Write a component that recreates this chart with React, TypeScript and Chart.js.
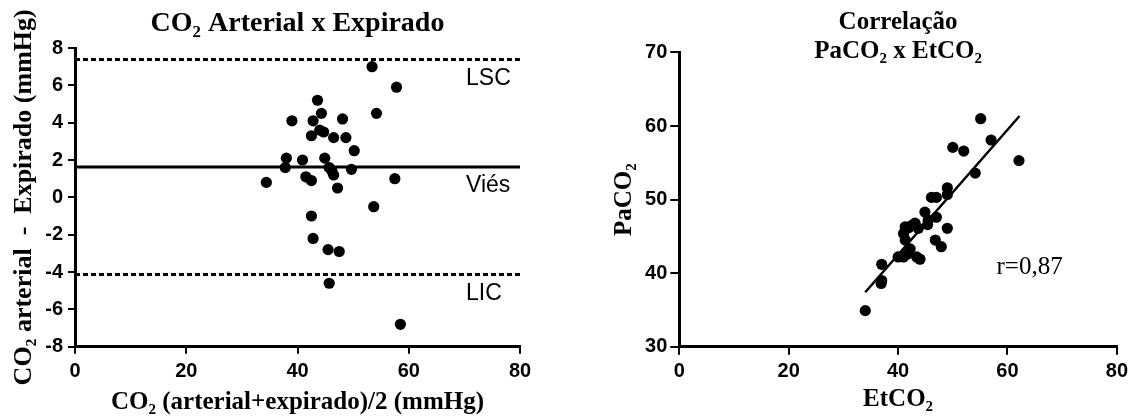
import { useEffect, useRef } from 'react';
import { Chart, registerables } from 'chart.js';

Chart.register(...registerables);

// Bland-Altman: mean of arterial and expired CO2 (x) vs their difference (y)
const meanCO2 = [
  34.4, 37.8, 38.0, 39.0, 40.9, 41.5, 42.5, 42.5, 42.8, 42.5, 42.8, 43.6,
  44.3, 44.0, 44.7, 44.9, 45.7, 45.5, 45.7, 46.2, 46.5, 46.5, 47.2, 47.5,
  48.1, 48.7, 49.7, 50.2, 53.4, 54.2, 53.7, 57.5, 57.8, 58.5,
];
const diffCO2 = [
  0.8, 1.6, 2.1, 4.1, 2.0, 1.1, 0.9, -1.0, -2.2, 3.3, 4.1, 5.2,
  4.5, 3.6, 3.5, 2.1, 1.6, -2.8, -4.6, 1.4, 1.2, 3.2, 0.5, -2.9,
  4.2, 3.2, 1.5, 2.5, 7.0, 4.5, -0.5, 1.0, 5.9, -6.8,
];
const biasValue = 1.63;
const upperLimit = 7.39;
const lowerLimit = -4.13;
const limitLabels = ['LSC', 'Viés', 'LIC'];
const limitValues = [upperLimit, biasValue, lowerLimit];

// Correlation: EtCO2 (x) vs PaCO2 (y)
const etco2 = [
  34.0, 37.0, 37.0, 36.9, 40.0, 41.0, 41.3, 41.0, 41.3, 42.5, 42.2, 43.4,
  44.0, 43.7, 44.9, 45.5, 46.1, 47.0, 47.0, 46.8, 47.9, 49.0, 49.0, 49.0,
  50.0, 52.0, 54.1, 55.1, 57.0, 62.1, 42.0, 43.1, 45.4, 41.7,
];
const paco2 = [
  34.9, 41.2, 39.0, 38.6, 42.2, 42.2, 46.3, 45.4, 44.5, 46.5, 43.3, 42.2,
  41.9, 46.1, 48.3, 47.2, 50.3, 50.3, 47.6, 44.5, 43.6, 46.1, 51.6, 50.7,
  57.1, 56.6, 53.6, 61.0, 58.1, 55.3, 46.2, 46.8, 46.6, 42.6,
];
const fitSlope = 0.85;
const fitIntercept = 8.5;
const fitRange = [34, 62.2];
const rLabel = 'r=0,87';

const SANS = '"Liberation Sans", Arial, sans-serif';
const SERIF = '"Liberation Serif", "Times New Roman", serif';

const tickFont = { family: SANS, size: 20, weight: 'bold' as const };

function axisBase(min: number, max: number, step: number, tickLength: number, pad: number) {
  return {
    type: 'linear' as const,
    min,
    max,
    ticks: { stepSize: step, color: '#000', font: tickFont, padding: pad },
    grid: { drawOnChartArea: false, color: '#000', lineWidth: 2, tickLength },
    border: { display: true, color: '#000', width: 3 },
  };
}

function BlandAltman() {
  const ref = useRef<HTMLCanvasElement>(null);
  useEffect(() => {
    const points = meanCO2.map((x, i) => ({ x, y: diffCO2[i] }));
    const hline = (v: number) => [{ x: 0, y: v }, { x: 80, y: v }];
    const labelPlugin = {
      id: 'limitLabels',
      afterDatasetsDraw(chart: any) {
        const { ctx, scales } = chart;
        ctx.save();
        ctx.fillStyle = '#000';
        ctx.font = `23px ${SANS}`;
        ctx.textAlign = 'left';
        ctx.textBaseline = 'middle';
        limitLabels.forEach((t, i) => {
          ctx.fillText(t, scales.x.getPixelForValue(70.3), scales.y.getPixelForValue(limitValues[i]) + 19);
        });
        ctx.restore();
      },
    };
    const chart = new Chart(ref.current!, {
      type: 'scatter',
      data: {
        datasets: [
          { data: points, pointRadius: 5.6, pointHoverRadius: 5.6, backgroundColor: '#000', borderWidth: 0 },
          { data: hline(biasValue), showLine: true, borderColor: '#000', borderWidth: 3, pointRadius: 0 },
          { data: hline(upperLimit), showLine: true, borderColor: '#000', borderWidth: 3, borderDash: [5, 3], pointRadius: 0 },
          { data: hline(lowerLimit), showLine: true, borderColor: '#000', borderWidth: 3, borderDash: [5, 3], pointRadius: 0 },
        ],
      },
      options: {
        responsive: false,
        animation: false,
        layout: { padding: { left: 0, right: 40, top: 0, bottom: 0 } },
        plugins: {
          legend: { display: false },
          tooltip: { enabled: false },
          title: {
            display: true,
            fullSize: false,
            text: 'CO₂ Arterial x Expirado',
            color: '#000',
            font: { family: SERIF, size: 28, weight: 'bold', lineHeight: 1.2 },
            padding: { top: 7, bottom: 7.4 },
          },
        },
        scales: {
          x: {
            ...axisBase(0, 80, 20, 7, 6),
            title: {
              display: true,
              text: 'CO₂ (arterial+expirado)/2 (mmHg)',
              color: '#000',
              font: { family: SERIF, size: 25, weight: 'bold', lineHeight: 1.2 },
              padding: { top: 0, bottom: -2 },
            },
            afterFit: (s: any) => { s.height = 69.3; },
          },
          y: {
            ...axisBase(-8, 8, 2, 7, 5),
            title: {
              display: true,
              text: 'CO₂ arterial  -  Expirado (mmHg)',
              color: '#000',
              font: { family: SERIF, size: 26, weight: 'bold', lineHeight: 1.2 },
              padding: { top: 9, bottom: 0 },
            },
            afterFit: (s: any) => { s.width = 75; },
          },
        },
      },
      plugins: [labelPlugin],
    } as any);
    return () => chart.destroy();
  }, []);
  return <canvas ref={ref} width={560} height={416} style={{ position: 'absolute', left: 0, top: 0 }} />;
}

function Correlation() {
  const ref = useRef<HTMLCanvasElement>(null);
  useEffect(() => {
    const points = etco2.map((x, i) => ({ x, y: paco2[i] }));
    const fit = fitRange.map((x) => ({ x, y: fitSlope * x + fitIntercept }));
    const rPlugin = {
      id: 'rLabel',
      afterDatasetsDraw(chart: any) {
        const { ctx, scales } = chart;
        ctx.save();
        ctx.fillStyle = '#000';
        ctx.font = `25px ${SERIF}`;
        ctx.textAlign = 'left';
        ctx.textBaseline = 'middle';
        ctx.fillText(rLabel, scales.x.getPixelForValue(58), scales.y.getPixelForValue(40.8));
        ctx.restore();
      },
    };
    const chart = new Chart(ref.current!, {
      type: 'scatter',
      data: {
        datasets: [
          { data: points, pointRadius: 5.6, pointHoverRadius: 5.6, backgroundColor: '#000', borderWidth: 0 },
          { data: fit, showLine: true, borderColor: '#000', borderWidth: 2.5, pointRadius: 0 },
        ],
      },
      options: {
        responsive: false,
        animation: false,
        layout: { padding: { left: 0, right: 13, top: 0, bottom: 0 } },
        plugins: {
          legend: { display: false },
          tooltip: { enabled: false },
          title: {
            display: true,
            fullSize: false,
            text: ['Correlação', 'PaCO₂ x EtCO₂'],
            color: '#000',
            font: { family: SERIF, size: 25, weight: 'bold', lineHeight: 1.16 },
            padding: { top: 8.5, bottom: -14 },
          },
        },
        scales: {
          x: {
            ...axisBase(0, 80, 20, 8, 5),
            title: {
              display: true,
              text: 'EtCO₂',
              color: '#000',
              font: { family: SERIF, size: 25, weight: 'bold', lineHeight: 1.2 },
              padding: { top: 0, bottom: 1 },
            },
            afterFit: (s: any) => { s.height = 69.3; },
          },
          y: {
            ...axisBase(30, 70, 10, 9, 3),
            title: {
              display: true,
              text: 'PaCO₂',
              color: '#000',
              font: { family: SERIF, size: 25, weight: 'bold', lineHeight: 1.2 },
              padding: { top: 50, bottom: 0 },
            },
            afterFit: (s: any) => { s.width = 119.3; },
          },
        },
      },
      plugins: [rPlugin],
    } as any);
    return () => chart.destroy();
  }, []);
  return <canvas ref={ref} width={573} height={416} style={{ position: 'absolute', left: 560, top: 0 }} />;
}

export default function App() {
  return (
    <div style={{ position: 'fixed', left: 0, top: 0, width: 1133, height: 416, background: '#fff', overflow: 'hidden' }}>
      <BlandAltman />
      <Correlation />
    </div>
  );
}
